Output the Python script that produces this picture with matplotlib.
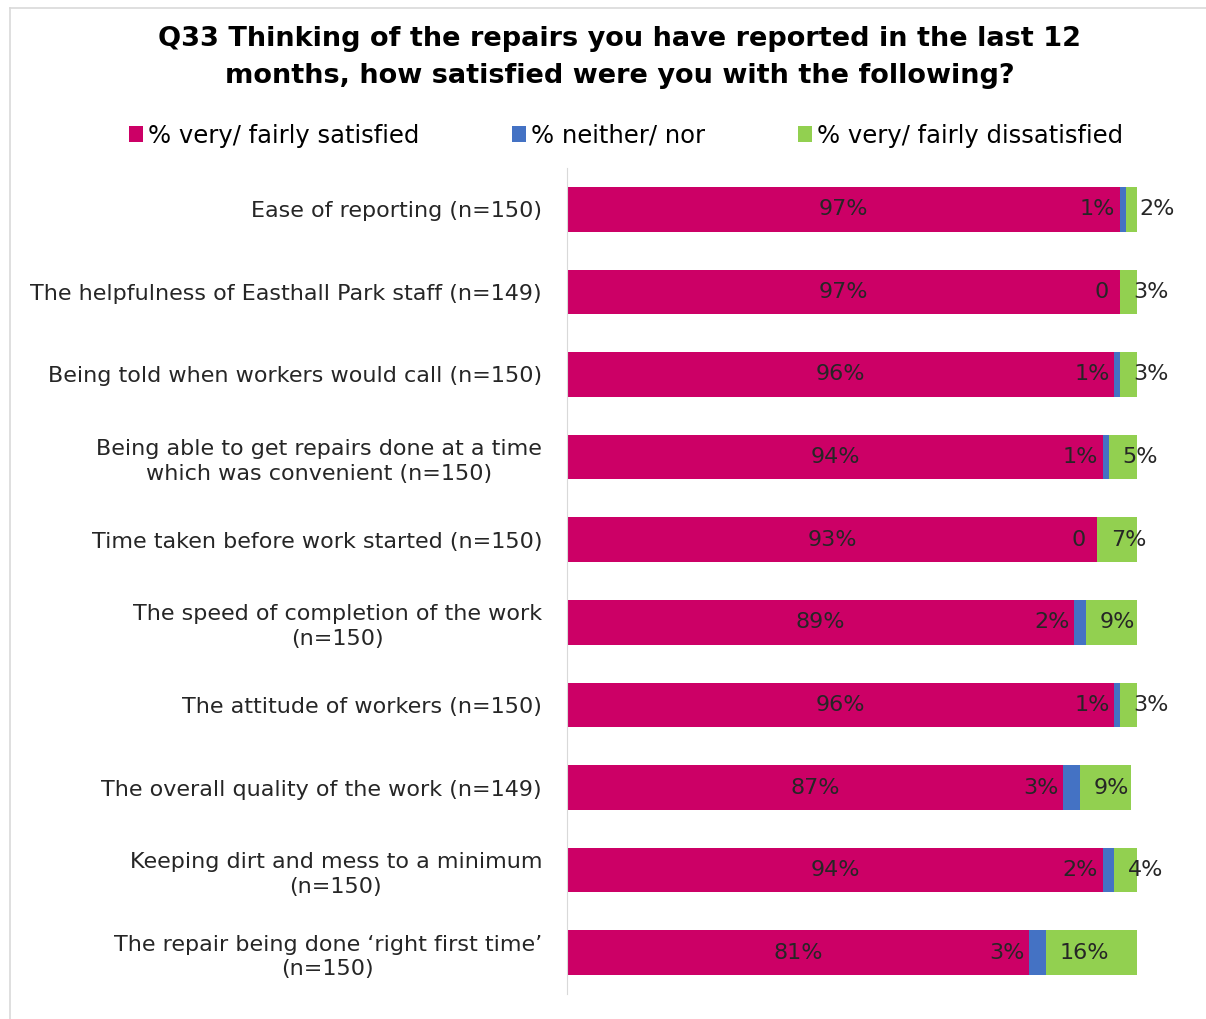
import matplotlib
matplotlib.use("Agg")
from matplotlib import pyplot as plt
from matplotlib.patches import Patch
from matplotlib.lines import Line2D

# survey results, Q33 repairs satisfaction
questions = [
    "Ease of reporting (n=150)",
    "The helpfulness of Easthall Park staff (n=149)",
    "Being told when workers would call (n=150)",
    "Being able to get repairs done at a time\nwhich was convenient (n=150)",
    "Time taken before work started (n=150)",
    "The speed of completion of the work\n(n=150)",
    "The attitude of workers (n=150)",
    "The overall quality of the work (n=149)",
    "Keeping dirt and mess to a minimum\n(n=150)",
    "The repair being done \u2018right first time\u2019\n(n=150)",
]
satisfied = [97, 97, 96, 94, 93, 89, 96, 87, 94, 81]
neither = [1, 0, 1, 1, 0, 2, 1, 3, 2, 3]
dissatisfied = [2, 3, 3, 5, 7, 9, 3, 9, 4, 16]

series_names = ["% very/ fairly satisfied", "% neither/ nor", "% very/ fairly dissatisfied"]
colours = ["#CC0066", "#4472C4", "#92D050"]

plt.rcParams["font.family"] = "DejaVu Sans"

fig = plt.figure(figsize=(12.06, 10.19), dpi=100)
ax = fig.add_axes([567 / 1206, 25 / 1019, 570 / 1206, 826 / 1019])

y = list(range(len(questions)))
h = 0.54
left2 = [s + n for s, n in zip(satisfied, neither)]
ax.barh(y, satisfied, height=h, color=colours[0])
ax.barh(y, neither, height=h, left=satisfied, color=colours[1])
ax.barh(y, dissatisfied, height=h, left=left2, color=colours[2])

fs = 16
tc = "#262626"
for i in y:
    s, n, d = satisfied[i], neither[i], dissatisfied[i]
    ax.text(s / 2, i, f"{s}%", ha="center", va="center", fontsize=fs, color=tc)
    ax.text(s - (0.8 if n else 2.0), i, f"{n}%" if n else "0", ha="right", va="center",
            fontsize=fs, color=tc)
    ax.text(s + n + 2.4, i, f"{d}%", ha="left", va="center", fontsize=fs, color=tc,
            clip_on=False)

ax.set_xlim(0, 100)
ax.set_ylim(len(questions) - 0.5, -0.5)
ax.set_yticks(y)
ax.set_yticklabels(questions, fontsize=16, multialignment="center", color=tc,
                   linespacing=1.3)
ax.tick_params(axis="y", length=0, pad=18)
ax.set_xticks([])
for side in ["top", "right", "bottom"]:
    ax.spines[side].set_visible(False)
ax.spines["left"].set_color("#D9D9D9")

fig.text(0.514, 0.944,
         "Q33 Thinking of the repairs you have reported in the last 12\nmonths, how satisfied were you with the following?",
         ha="center", va="center", fontsize=19.5, fontweight="bold", linespacing=1.55)

handles = [Patch(facecolor=c) for c in colours]
fig.legend(handles, series_names, loc="center", bbox_to_anchor=(0.519, 0.867), ncol=3,
           frameon=False, fontsize=17.5, handlelength=0.6, handleheight=0.6,
           handletextpad=0.2, columnspacing=3.8)

# light frame round the chart area
fig.add_artist(Line2D([10 / 1206, 1], [1 - 8 / 1019] * 2, color="#D9D9D9", lw=1.2))
fig.add_artist(Line2D([10 / 1206] * 2, [0, 1 - 8 / 1019], color="#D9D9D9", lw=1.2))

fig.savefig("out.png", dpi=100, facecolor="white")
